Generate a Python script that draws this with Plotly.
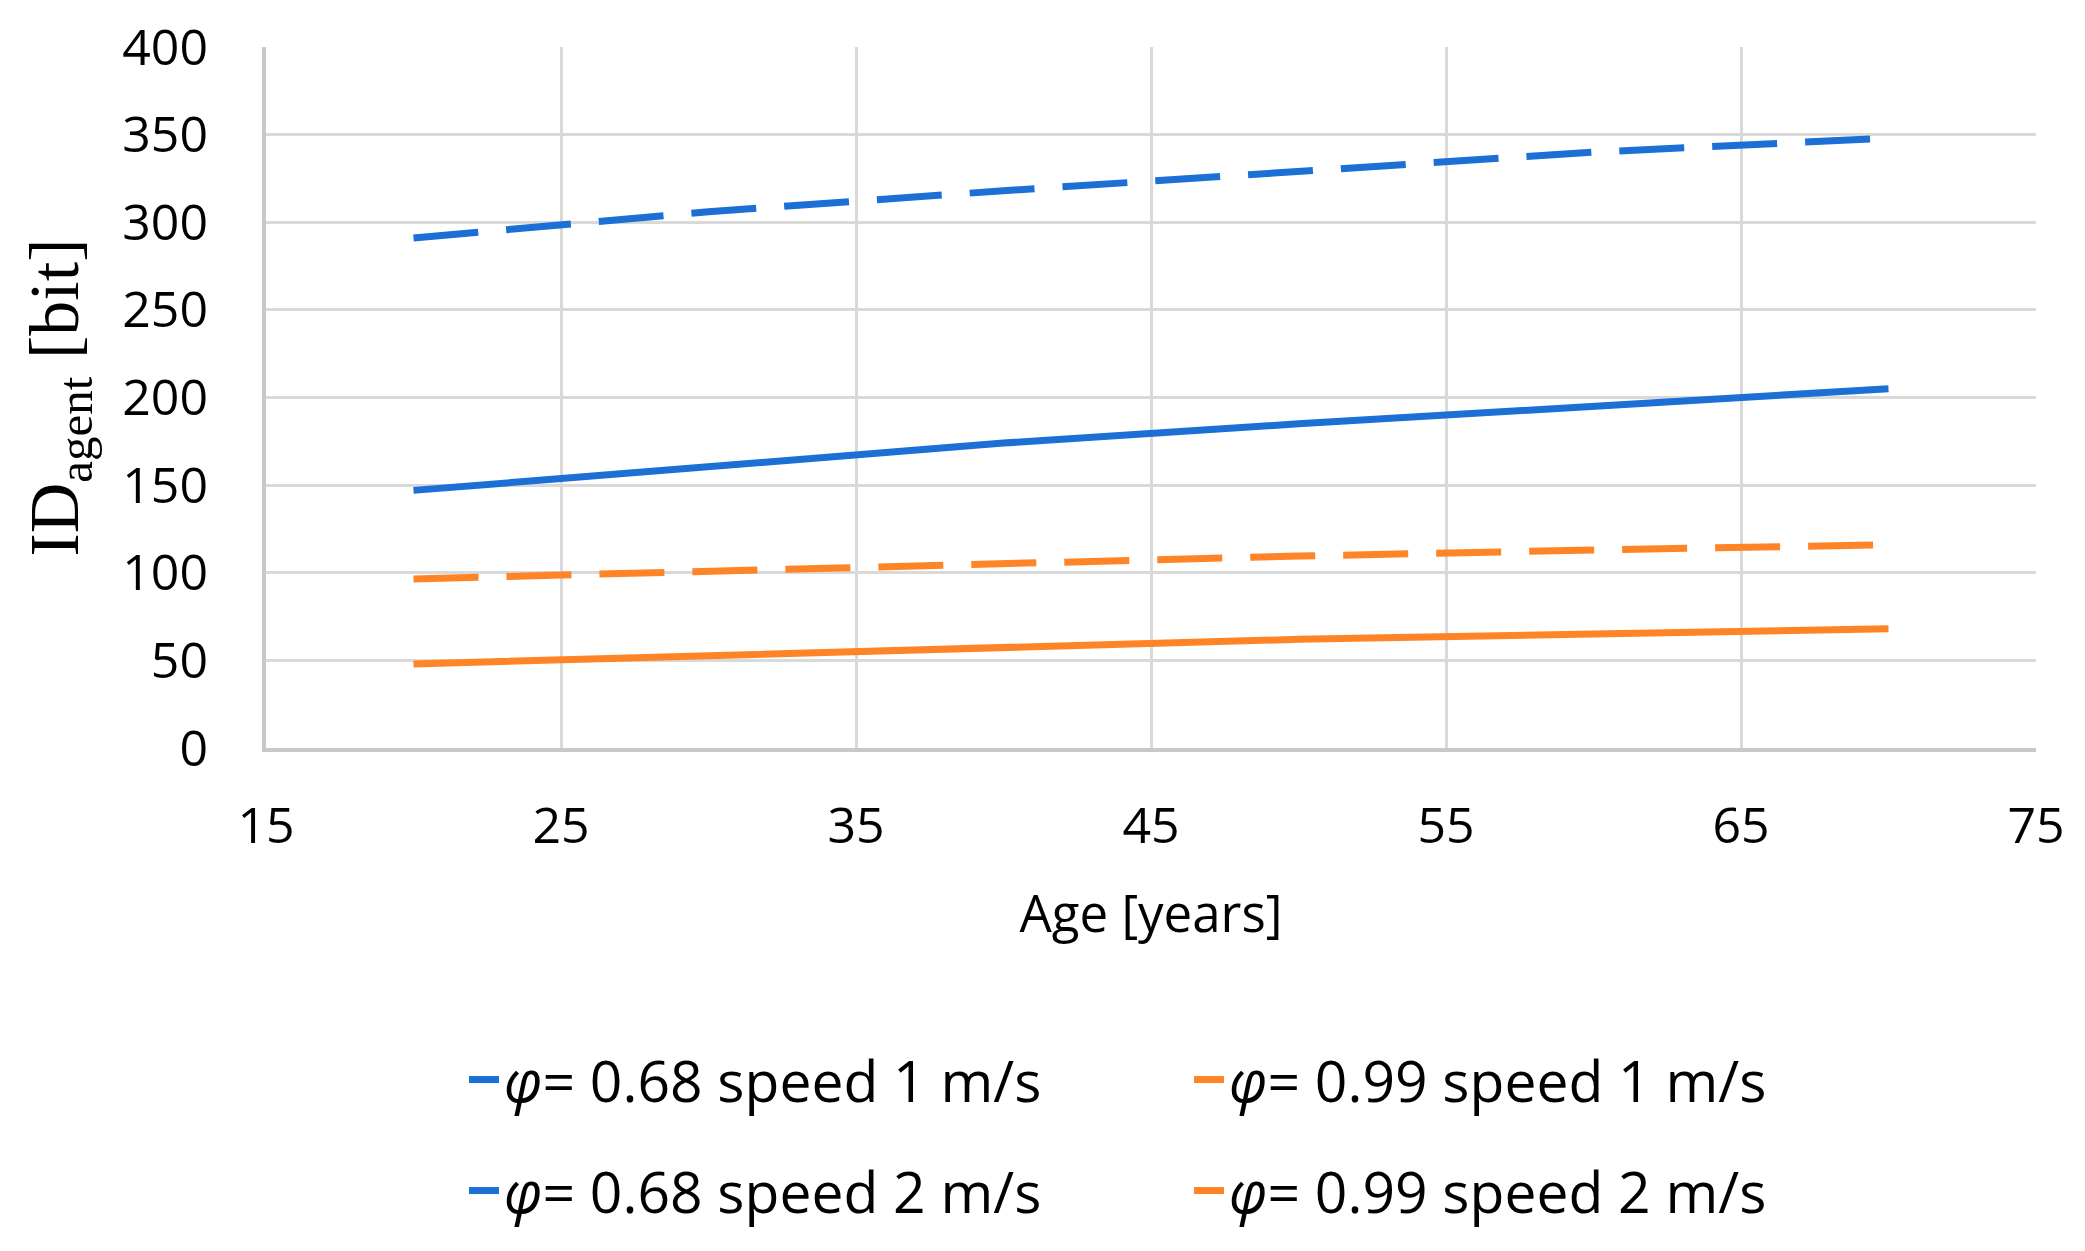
import plotly.graph_objects as go

age = [20, 30, 40, 50, 60, 70]
phi068_v1 = [147, 161, 174, 185, 195, 205]
phi099_v1 = [48, 53, 57.5, 62, 65, 68]
phi068_v2 = [291, 306, 318, 329, 340, 348]
phi099_v2 = [96.5, 101, 105, 109.5, 113, 116]

names = [
    "<i>φ</i>= 0.68 speed 1 m/s",
    "<i>φ</i>= 0.99 speed 1 m/s",
    "<i>φ</i>= 0.68 speed 2 m/s",
    "<i>φ</i>= 0.99 speed 2 m/s",
]

x_ticks = [15, 25, 35, 45, 55, 65, 75]
y_ticks = [0, 50, 100, 150, 200, 250, 300, 350, 400]

BLUE = "#1C6FD4"
ORANGE = "#FF8427"
DASH = "65px,28px"
LW = 7

fig = go.Figure()
fig.add_trace(go.Scatter(x=age, y=phi068_v1, mode="lines", name=names[0],
                         line=dict(color=BLUE, width=LW), legend="legend"))
fig.add_trace(go.Scatter(x=age, y=phi099_v1, mode="lines", name=names[1],
                         line=dict(color=ORANGE, width=LW), legend="legend"))
fig.add_trace(go.Scatter(x=age, y=phi068_v2, mode="lines", name=names[2],
                         line=dict(color=BLUE, width=LW, dash=DASH), legend="legend2"))
fig.add_trace(go.Scatter(x=age, y=phi099_v2, mode="lines", name=names[3],
                         line=dict(color=ORANGE, width=LW, dash=DASH), legend="legend2"))

legend_common = dict(
    orientation="h", xref="container", yref="container",
    xanchor="left", yanchor="middle",
    font=dict(family="Open Sans", size=57, color="#000000"),
    entrywidth=680, entrywidthmode="pixels", itemwidth=30,
    bgcolor="rgba(0,0,0,0)", borderwidth=0, traceorder="normal",
)

fig.update_layout(
    width=2085, height=1251,
    margin=dict(l=258, r=57, t=39, b=511, autoexpand=False),
    paper_bgcolor="white", plot_bgcolor="white",
    font=dict(family="Open Sans", size=50, color="#000000"),
    showlegend=True,
    legend=dict(x=456 / 2085, y=1 - 1072 / 1251, **legend_common),
    legend2=dict(x=456 / 2085, y=1 - 1183 / 1251, **legend_common),
    xaxis=dict(
        range=[15, 75], tickvals=x_ticks, ticktext=[str(v) for v in x_ticks],
        showgrid=True, gridcolor="#d9d9d9", gridwidth=3,
        showline=True, linecolor="#c8c8c8", linewidth=4,
        zeroline=False, ticks="", ticklabelstandoff=31, automargin=False,
        tickfont=dict(family="Open Sans", size=50, color="#000000"),
        title=dict(text="Age [years]", standoff=40,
                   font=dict(family="Open Sans", size=51, color="#000000")),
    ),
    yaxis=dict(
        range=[0, 400], tickvals=y_ticks, ticktext=[str(v) for v in y_ticks],
        showgrid=True, gridcolor="#d9d9d9", gridwidth=3,
        showline=True, linecolor="#c8c8c8", linewidth=4,
        zeroline=False, ticks="", ticklabelstandoff=44, automargin=False,
        tickfont=dict(family="Open Sans", size=50, color="#000000"),
        title=dict(text="ID<sub>agent</sub> [bit]", standoff=22,
                   font=dict(family="Liberation Serif", size=70, color="#000000")),
    ),
)

fig.write_html("out.html")
